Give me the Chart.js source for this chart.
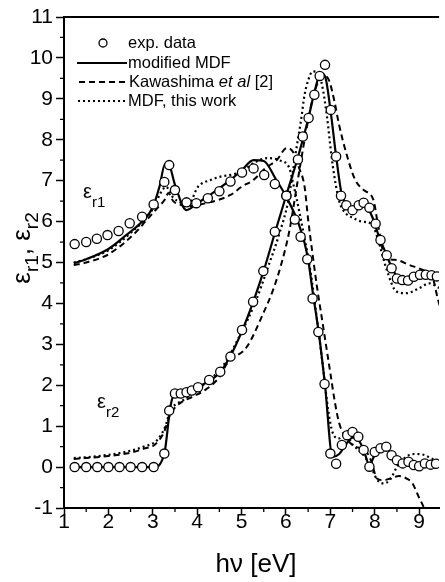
<!DOCTYPE html>
<html>
<head>
<meta charset="utf-8">
<script src="https://cdn.jsdelivr.net/npm/chart.js@4.4.1/dist/chart.umd.min.js"></script>
<style>
html,body{margin:0;padding:0;background:#fff;}
</style>
</head>
<body>
<canvas id="chart" width="445" height="582"></canvas>
<script>
// experimental points
var expR1X = [1.24,1.5,1.74,1.98,2.23,2.48,2.76,3.02,3.26,3.37,3.5,3.76,3.98,4.24,4.5,4.75,5.01,5.27,5.51,5.75,6.01,6.2,6.33,6.48,6.6,6.73,6.87,7.0,7.13,7.26,7.38,7.5,7.63,7.75,7.88,8.0,8.13,8.26,8.38,8.5,8.63,8.76,8.88,9.0,9.13,9.26,9.38];
var expR1Y = [5.45,5.5,5.58,5.67,5.77,5.96,6.12,6.42,6.97,7.38,6.77,6.47,6.45,6.57,6.74,6.98,7.2,7.3,7.14,6.92,6.63,6.05,5.63,5.08,4.12,3.3,2.03,0.33,0.08,0.54,0.78,0.86,0.74,0.42,0.01,0.37,0.46,0.5,0.29,0.17,0.09,0.13,0.05,0.02,0.09,0.06,0.08];
var expR2X = [1.24,1.5,1.75,2.0,2.25,2.5,2.76,3.02,3.26,3.37,3.5,3.63,3.76,3.88,4.02,4.27,4.52,4.75,5.01,5.26,5.49,5.75,6.01,6.27,6.38,6.51,6.64,6.76,6.88,7.01,7.13,7.24,7.36,7.5,7.64,7.75,7.88,8.02,8.13,8.27,8.38,8.5,8.62,8.75,8.88,9.02,9.15,9.28,9.4];
var expR2Y = [0,0,0,0,0,0,0,0,0.33,1.38,1.8,1.8,1.83,1.87,1.95,2.13,2.33,2.7,3.35,4.04,4.79,5.75,6.63,7.52,8.08,8.53,9.1,9.56,9.83,8.73,7.59,6.63,6.4,6.28,6.4,6.46,6.34,5.95,5.55,5.18,4.86,4.61,4.57,4.56,4.65,4.7,4.7,4.69,4.66];

// modified MDF (solid)
var modR1X = [1.22,1.5,2.0,2.4,2.76,3.0,3.15,3.28,3.36,3.5,3.76,4.0,4.25,4.75,5.0,5.27,5.5,5.78,6.0,6.3,6.49,6.6,6.75,6.88,7.05,7.2,7.35,7.5,7.62,7.75,7.88,8.0,8.15,8.28,8.42,8.6,8.8,9.0,9.2,9.45];
var modR1Y = [4.98,5.08,5.33,5.67,6.0,6.35,6.85,7.42,7.4,6.9,6.28,6.45,6.62,7.02,7.25,7.5,7.48,7.02,6.62,5.9,5.14,4.3,3.2,2.0,0.25,0.32,0.55,0.72,0.68,0.42,0.05,0.3,0.5,0.45,0.25,0.12,0.1,0.1,0.08,0.05];
var modR2X = [1.22,3.02,3.26,3.4,3.5,3.75,4.0,4.5,4.75,5.0,5.25,5.5,5.75,6.0,6.25,6.5,6.65,6.78,6.88,7.0,7.13,7.25,7.38,7.5,7.65,7.8,7.95,8.1,8.27,8.4,8.55,8.75,8.95,9.2,9.45];
var modR2Y = [0,0,0.33,1.5,1.8,1.84,1.95,2.3,2.72,3.3,4.0,4.8,5.72,6.62,7.5,8.5,9.2,9.62,9.55,8.75,7.6,6.7,6.42,6.33,6.45,6.4,6.1,5.62,5.18,4.83,4.62,4.56,4.66,4.68,4.62];

// Kawashima et al [2] (dashed)
var kawR1X = [1.22,1.5,2.0,2.6,2.87,3.13,3.28,3.35,3.46,3.6,3.8,4.2,4.75,5.0,5.27,5.53,5.79,6.02,6.16,6.3,6.42,6.5,6.6,6.7,6.8,6.9,7.0,7.1,7.2,7.34,7.56,7.78,7.92,8.05,8.2,8.35,8.55,8.72,8.85,9.0,9.11,9.2];
var kawR1Y = [4.94,5.0,5.2,5.72,6.05,6.36,6.55,6.7,6.5,6.42,6.38,6.45,6.65,6.85,7.02,7.3,7.5,7.8,7.7,7.3,6.85,6.05,5.2,4.4,3.7,3.0,2.3,1.6,1.07,0.74,0.5,0.42,0.15,-0.28,-0.32,-0.28,-0.22,-0.28,-0.4,-0.75,-1.0,-1.3];
var kawR2X = [1.22,2.0,2.5,2.8,3.05,3.25,3.4,3.6,3.9,4.2,4.5,4.68,5.12,5.49,5.71,5.9,6.08,6.25,6.42,6.58,6.72,6.85,6.97,7.1,7.19,7.38,7.56,7.75,7.97,8.08,8.23,8.49,8.78,9.08,9.3,9.41,9.5];
var kawR2Y = [0.2,0.27,0.35,0.45,0.55,0.85,1.3,1.55,1.72,1.9,2.2,2.54,2.94,3.76,4.33,4.98,5.79,6.9,8.0,8.9,9.4,9.58,9.45,8.9,8.4,7.59,7.02,6.77,6.53,5.88,5.14,5.06,4.94,4.82,4.65,4.16,3.8];

// MDF, this work (dotted)
var mdfR1X = [1.22,1.5,2.0,2.5,2.9,3.05,3.17,3.3,3.45,3.65,3.78,4.02,4.31,4.53,4.75,5.0,5.3,5.6,5.85,6.08,6.16,6.23,6.4,6.55,6.7,6.85,6.95,7.05,7.2,7.35,7.5,7.7,7.9,8.05,8.2,8.35,8.5,8.7,8.9,9.1,9.3,9.45];
var mdfR1Y = [5.0,5.08,5.3,5.72,6.15,6.41,6.69,6.85,6.6,6.45,6.38,6.85,7.02,7.1,7.14,7.22,7.45,7.55,7.5,7.3,6.94,6.61,5.7,4.8,3.6,2.3,1.4,0.85,0.7,0.8,0.55,0.35,0.05,-0.3,-0.4,-0.3,0.0,0.25,0.32,0.3,0.2,0.1];
var mdfR2X = [1.22,1.5,2.0,2.5,2.8,3.1,3.28,3.4,3.55,3.75,4.0,4.3,4.6,5.0,5.3,5.6,5.85,6.05,6.23,6.34,6.42,6.5,6.6,6.72,6.82,6.92,7.05,7.2,7.35,7.53,7.7,7.9,8.0,8.12,8.27,8.49,8.71,9.0,9.23,9.45];
var mdfR2Y = [0.22,0.24,0.3,0.4,0.5,0.66,0.99,1.4,1.55,1.68,1.9,2.15,2.5,3.3,4.0,4.9,5.7,6.5,7.75,8.48,9.1,9.45,9.67,9.65,9.3,8.6,7.4,6.5,6.2,6.08,6.0,5.96,5.8,5.39,4.82,4.29,4.25,4.37,4.49,4.38];

var xTicks = [1,2,3,4,5,6,7,8,9];
var yTicks = [-1,0,1,2,3,4,5,6,7,8,9,10,11];

var FONT = "'Liberation Sans', Arial, Helvetica, sans-serif";

function pts(xs, ys) {
  return xs.map(function (x, i) { return {x: x, y: ys[i]}; });
}

function circleSet(xs, ys) {
  return {
    data: pts(xs, ys), showLine: false,
    pointStyle: 'circle', pointRadius: 4.6, pointBorderWidth: 1.3,
    pointBorderColor: '#000', pointBackgroundColor: '#fff'
  };
}

function lineSet(xs, ys, dash, width) {
  return {
    data: pts(xs, ys), showLine: true, pointRadius: 0,
    borderColor: '#000', borderWidth: width, borderDash: dash,
    cubicInterpolationMode: 'monotone', fill: false
  };
}

// text with subscript, returns width
function subText(ctx, base, sub, x, y, size, subSize, drop) {
  ctx.font = size + 'px ' + FONT;
  ctx.fillText(base, x, y);
  var w = ctx.measureText(base).width;
  ctx.font = subSize + 'px ' + FONT;
  ctx.fillText(sub, x + w, y + drop);
  return w + ctx.measureText(sub).width;
}

var decor = {
  id: 'decor',
  afterDraw: function (chart) {
    var ctx = chart.ctx;
    var xs = chart.scales.x, ys = chart.scales.y;
    var a = chart.chartArea;
    ctx.save();
    ctx.strokeStyle = '#000';
    ctx.fillStyle = '#000';
    ctx.setLineDash([]);

    // top frame
    ctx.lineWidth = 2;
    ctx.beginPath();
    ctx.moveTo(a.left, a.top);
    ctx.lineTo(a.right, a.top);
    ctx.stroke();

    // minor ticks
    ctx.lineWidth = 1.3;
    ctx.beginPath();
    for (var v = 1.5; v < 9.45; v += 1) {
      var px = xs.getPixelForValue(v);
      ctx.moveTo(px, a.bottom);
      ctx.lineTo(px, a.bottom + 4);
    }
    for (var u = -0.5; u < 11; u += 1) {
      var py = ys.getPixelForValue(u);
      ctx.moveTo(a.left, py);
      ctx.lineTo(a.left - 4, py);
    }
    ctx.stroke();

    // legend
    ctx.textBaseline = 'middle';
    ctx.textAlign = 'left';
    ctx.lineWidth = 1.3;
    ctx.beginPath();
    ctx.arc(103, 43, 4, 0, Math.PI * 2);
    ctx.stroke();
    ctx.lineWidth = 2.2;
    ctx.beginPath(); ctx.moveTo(77, 63); ctx.lineTo(127, 63); ctx.stroke();
    ctx.lineWidth = 2;
    ctx.setLineDash([6, 4]);
    ctx.beginPath(); ctx.moveTo(79, 82); ctx.lineTo(125, 82); ctx.stroke();
    ctx.setLineDash([2, 3]);
    ctx.lineWidth = 2.2;
    ctx.beginPath(); ctx.moveTo(78, 101); ctx.lineTo(126, 101); ctx.stroke();
    ctx.setLineDash([]);

    ctx.font = '16.5px ' + FONT;
    ctx.fillText('exp. data', 128, 43);
    ctx.fillText('modified MDF', 128, 63);
    var kx = 129;
    ctx.fillText('Kawashima ', kx, 82);
    kx += ctx.measureText('Kawashima ').width;
    ctx.font = 'italic 16.5px ' + FONT;
    ctx.fillText('et al', kx, 82);
    kx += ctx.measureText('et al ').width;
    ctx.font = '16.5px ' + FONT;
    ctx.fillText('[2]', kx, 82);
    ctx.fillText('MDF, this work', 128, 101);

    // curve labels
    ctx.textBaseline = 'alphabetic';
    subText(ctx, 'ε', 'r1', 83, 198, 20, 15, 9);
    subText(ctx, 'ε', 'r2', 97, 408, 20, 15, 9);

    // x title
    ctx.font = '26px ' + FONT;
    ctx.textAlign = 'center';
    ctx.fillText('hν [eV]', 256, 572);

    // y title (rotated)
    ctx.translate(30, 248);
    ctx.rotate(-Math.PI / 2);
    ctx.textAlign = 'left';
    var parts = [['ε', 26, 0], ['r1', 19, 8], [', ε', 26, 0], ['r2', 19, 8]];
    var total = 0;
    parts.forEach(function (p) { ctx.font = p[1] + 'px ' + FONT; total += ctx.measureText(p[0]).width; });
    var cx = -total / 2;
    parts.forEach(function (p) {
      ctx.font = p[1] + 'px ' + FONT;
      ctx.fillText(p[0], cx, p[2]);
      cx += ctx.measureText(p[0]).width;
    });
    ctx.restore();
  }
};

new Chart(document.getElementById('chart'), {
  type: 'scatter',
  data: {
    datasets: [
      circleSet(expR1X, expR1Y),
      circleSet(expR2X, expR2Y),
      lineSet(modR1X, modR1Y, [], 2.2),
      lineSet(modR2X, modR2Y, [], 2.2),
      lineSet(kawR1X, kawR1Y, [6, 4], 2),
      lineSet(kawR2X, kawR2Y, [6, 4], 2),
      lineSet(mdfR1X, mdfR1Y, [2, 3], 2.2),
      lineSet(mdfR2X, mdfR2Y, [2, 3], 2.2)
    ]
  },
  options: {
    responsive: false,
    animation: false,
    devicePixelRatio: 1,
    layout: {padding: {top: 17, right: 0, left: 0, bottom: 0}},
    plugins: {legend: {display: false}, tooltip: {enabled: false}},
    scales: {
      x: {
        type: 'linear', min: 1, max: 9.45,
        afterBuildTicks: function (s) { s.ticks = xTicks.map(function (v) { return {value: v}; }); },
        afterFit: function (s) { s.height = 74; },
        ticks: {color: '#000', font: {family: FONT, size: 21}, padding: -5, maxRotation: 0, autoSkip: false},
        grid: {drawOnChartArea: false, drawTicks: true, tickLength: 7, tickWidth: 1.5, tickColor: '#000'},
        border: {display: true, color: '#000', width: 2}
      },
      y: {
        type: 'linear', min: -1, max: 11,
        afterBuildTicks: function (s) { s.ticks = yTicks.map(function (v) { return {value: v}; }); },
        afterFit: function (s) { s.width = 64; },
        ticks: {color: '#000', font: {family: FONT, size: 21}, padding: 3, autoSkip: false},
        grid: {drawOnChartArea: false, drawTicks: true, tickLength: 8, tickWidth: 1.5, tickColor: '#000'},
        border: {display: true, color: '#000', width: 2}
      }
    }
  },
  plugins: [decor]
});
</script>
</body>
</html>
